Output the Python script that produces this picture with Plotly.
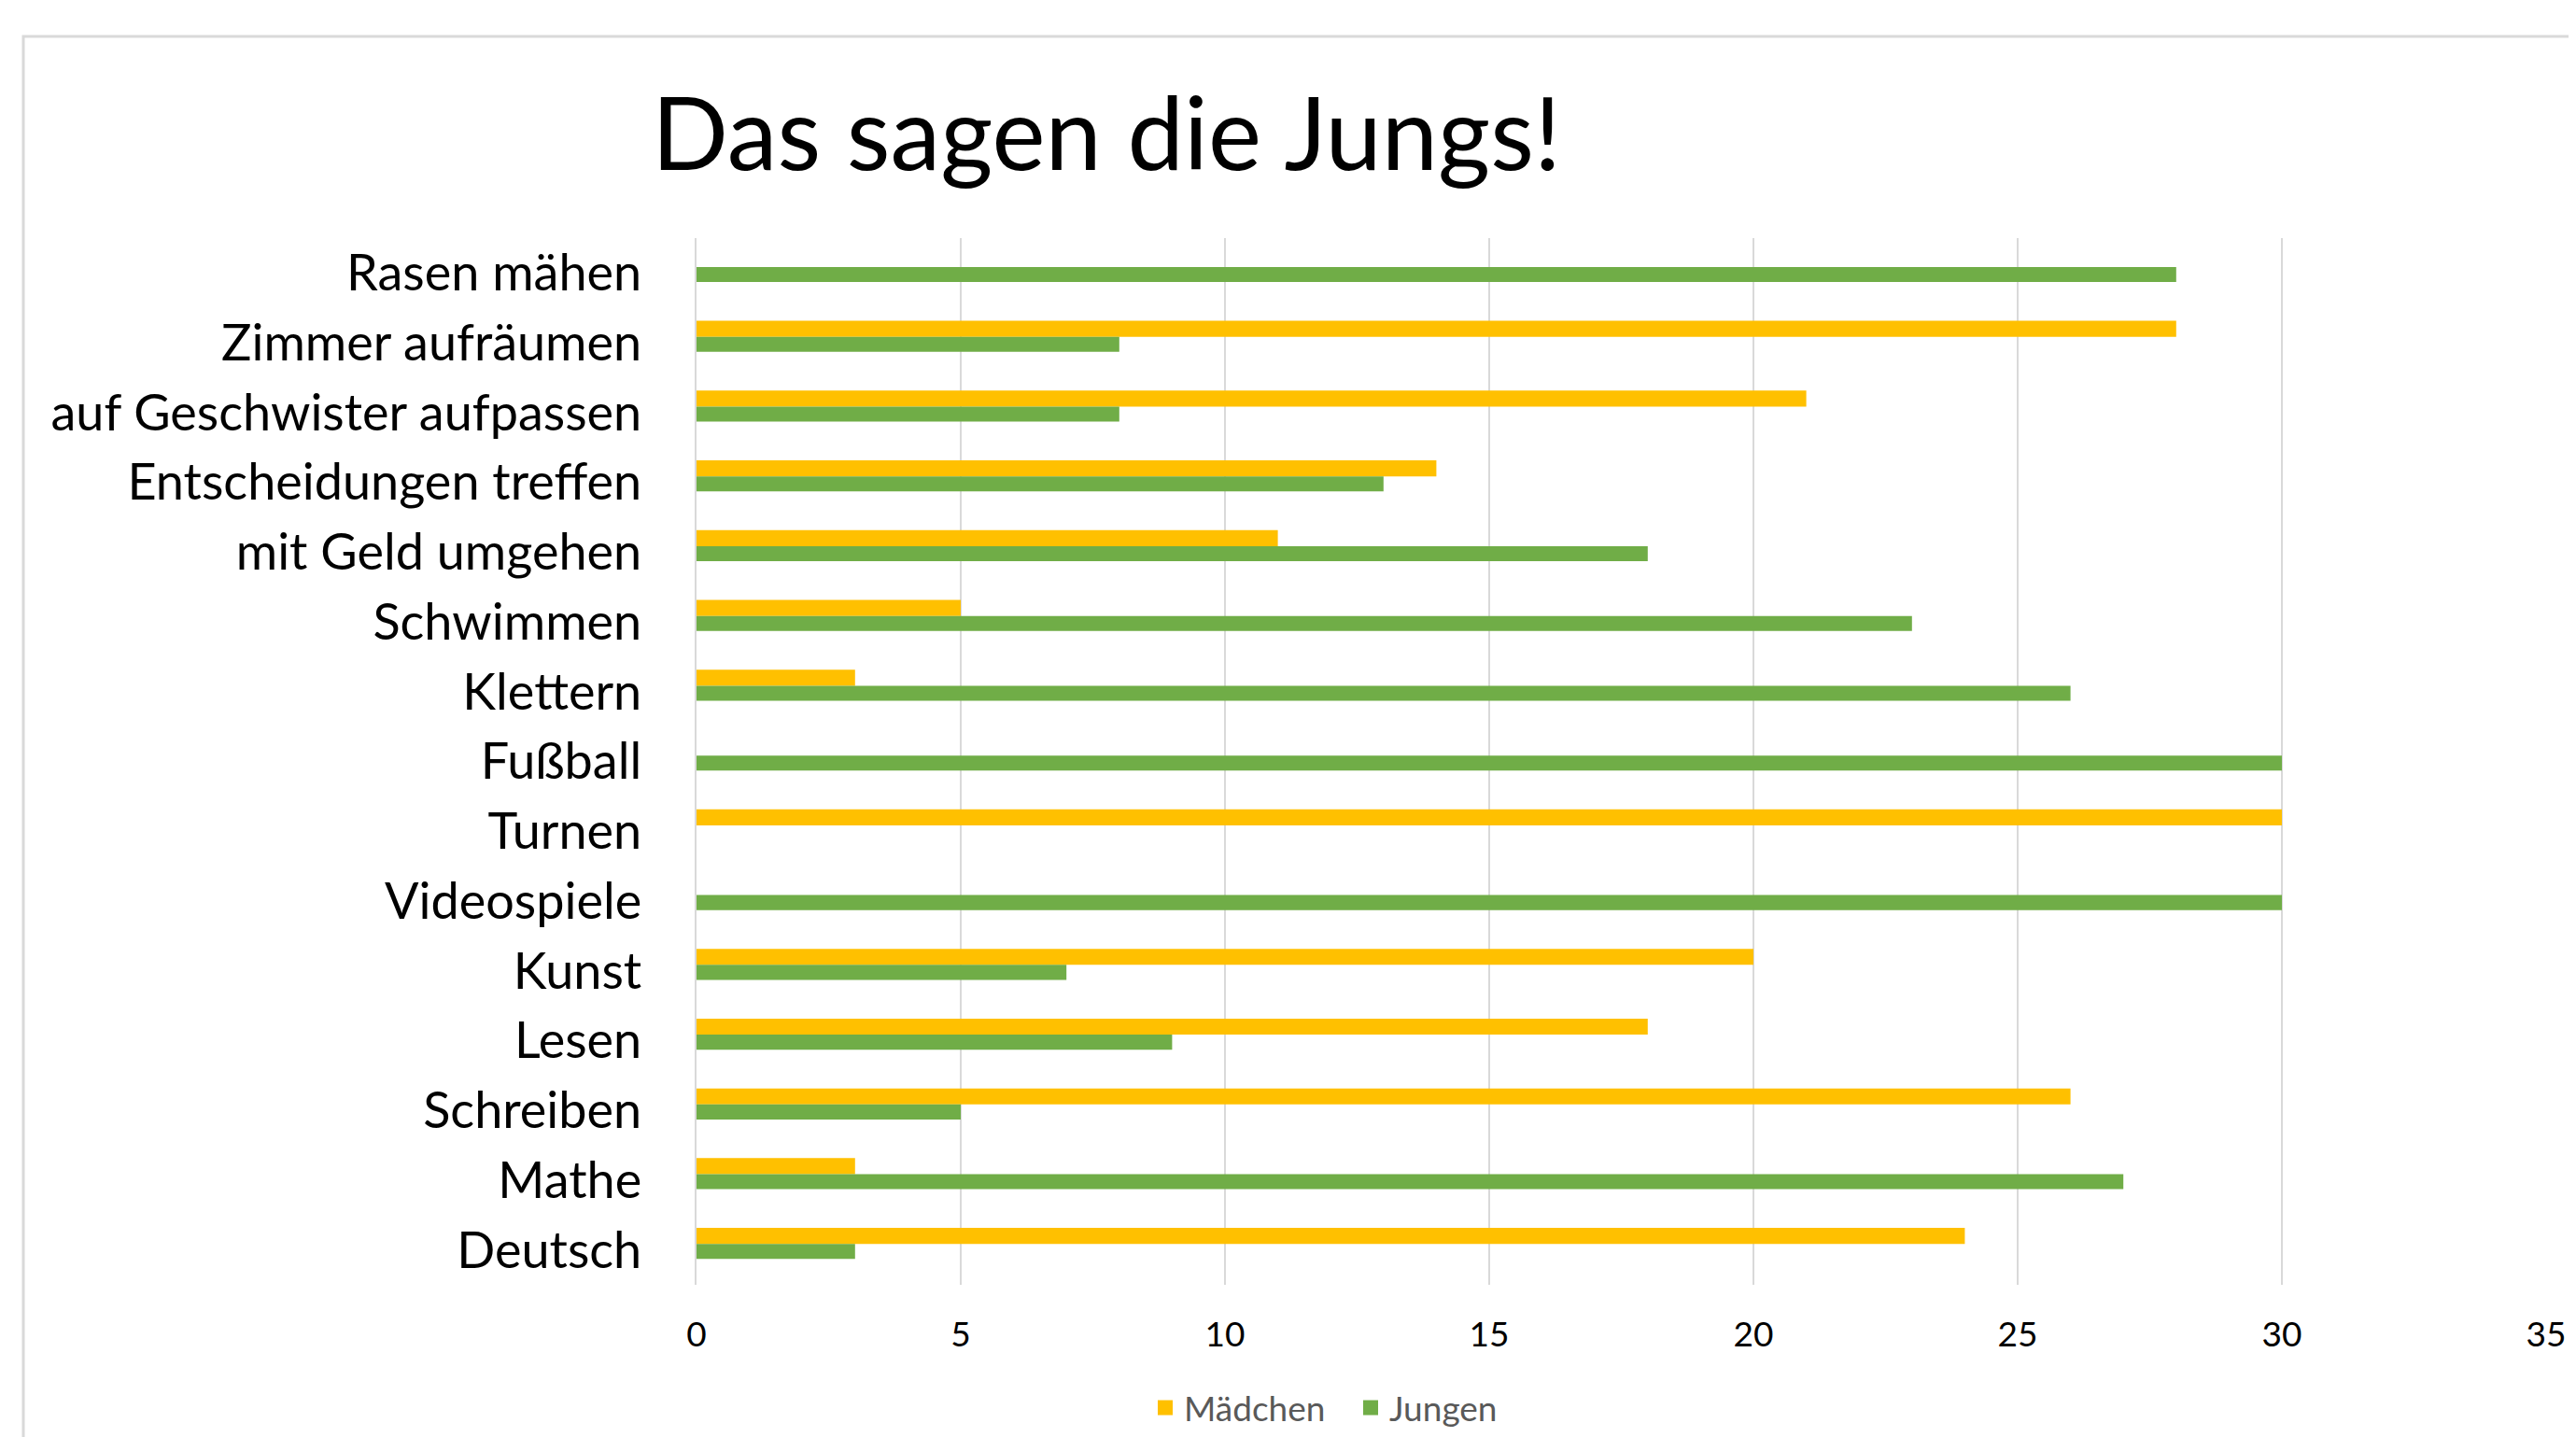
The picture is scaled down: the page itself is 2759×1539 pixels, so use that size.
import plotly.graph_objects as go

# Categories listed top to bottom as shown in the chart
categories = [
    "Rasen mähen", "Zimmer aufräumen", "auf Geschwister aufpassen",
    "Entscheidungen treffen", "mit Geld umgehen", "Schwimmen", "Klettern",
    "Fußball", "Turnen", "Videospiele", "Kunst", "Lesen", "Schreiben",
    "Mathe", "Deutsch",
]
maedchen = [0, 28, 21, 14, 11, 5, 3, 0, 30, 0, 20, 18, 26, 3, 24]
jungen = [28, 8, 8, 13, 18, 23, 26, 30, 0, 30, 7, 9, 5, 27, 3]
x_ticks = [0, 5, 10, 15, 20, 25, 30, 35]

COLOR_M = "#FFC000"
COLOR_J = "#70AD47"

OFF = 8  # default body margin of the html page
W, H = 2759 - OFF, 1539 - OFF
ML, MR = 746 - OFF, 32
MT, MB = 255 - OFF, 1539 - 1376
PW, PH = W - ML - MR, H - MT - MB
FONT = "Lato"


def px_x(px):
    return (px - OFF - ML) / PW


def px_y(py):
    return (H - MB - (py - OFF)) / PH


fig = go.Figure()
fig.add_trace(go.Bar(
    name="Mädchen", y=categories, x=maedchen, orientation="h",
    marker=dict(color=COLOR_M, line=dict(width=0)),
    offset=0.085, width=0.23, showlegend=False,
))
fig.add_trace(go.Bar(
    name="Jungen", y=categories, x=jungen, orientation="h",
    marker=dict(color=COLOR_J, line=dict(width=0)),
    offset=-0.13, width=0.215, showlegend=False,
))
# legend entries (square swatches)
for name, col in [("Mädchen", COLOR_M), ("Jungen", COLOR_J)]:
    fig.add_trace(go.Scatter(
        name=name, x=[None], y=[None], mode="markers",
        marker=dict(symbol="square", size=16, color=col),
        hoverinfo="skip",
    ))

fig.update_layout(
    width=W, height=H,
    margin=dict(l=ML, r=MR, t=MT, b=MB, autoexpand=False),
    paper_bgcolor="white", plot_bgcolor="white",
    barmode="overlay",
    font=dict(family=FONT, color="#000000"),
    title=dict(
        text="Das sagen die Jungs!",
        font=dict(family=FONT, size=108, color="#000000"),
        xref="container", x=(698 - OFF) / W, xanchor="left",
        yref="container", y=1 - (144 - OFF) / H, yanchor="middle",
    ),
    xaxis=dict(
        range=[0, 35], tickvals=x_ticks, ticktext=[str(v) for v in x_ticks],
        showgrid=True, gridcolor="#D9D9D9", gridwidth=2,
        zeroline=False, showline=False, ticks="",
        tickfont=dict(family=FONT, size=37, color="#000000"),
        ticklabelstandoff=28,
    ),
    yaxis=dict(
        type="category", categoryorder="array", categoryarray=categories[::-1],
        range=[-0.5, len(categories) - 0.5],
        showgrid=False, zeroline=False, ticks="",
        showline=True, linecolor="#D9D9D9", linewidth=2,
        tickfont=dict(family=FONT, size=54, color="#000000"),
        ticklabelstandoff=46,
    ),
    legend=dict(
        orientation="h", x=px_x(1228), xanchor="left",
        y=px_y(1508), yanchor="middle",
        font=dict(family=FONT, size=37, color="#595959"),
        traceorder="normal", itemsizing="trace",
        entrywidth=175, entrywidthmode="pixels",
    ),
    shapes=[dict(
        type="rect", xref="paper", yref="paper",
        x0=px_x(25), x1=px_x(2800), y0=px_y(1600), y1=px_y(39),
        line=dict(color="#D9D9D9", width=3), fillcolor="rgba(0,0,0,0)",
        layer="below",
    )],
)

fig.write_html("out.html")
